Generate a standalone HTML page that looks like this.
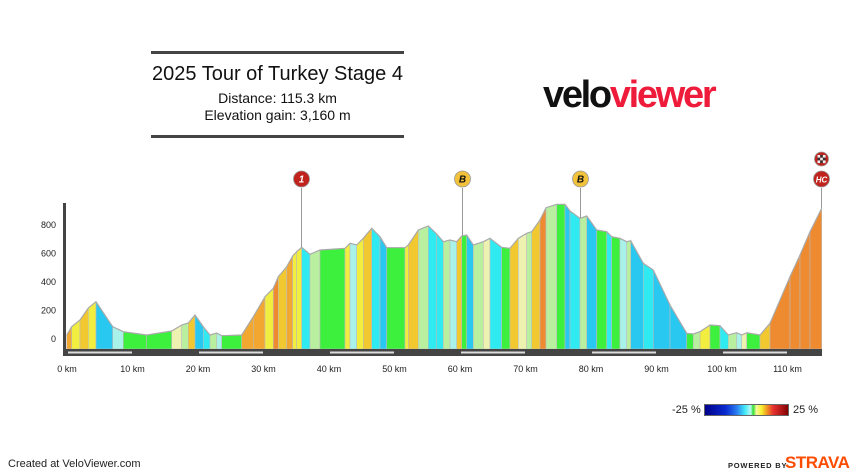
<!DOCTYPE html>
<html><head><meta charset="utf-8"><style>
body{margin:0;width:860px;height:473px;background:#fff;overflow:hidden;font-family:"Liberation Sans",Arial,sans-serif;position:relative}
.t{position:absolute;white-space:nowrap}
</style></head><body>
<div class="t" style="left:151px;top:51px;width:253px;height:3px;background:#444"></div>
<div class="t" style="left:151px;top:135px;width:253px;height:3px;background:#444"></div>
<div class="t" style="left:151px;width:253px;top:63px;text-align:center;font-size:20px;color:#111">2025 Tour of Turkey Stage 4</div>
<div class="t" style="left:151px;width:253px;top:90px;text-align:center;font-size:14px;color:#111">Distance: 115.3 km</div>
<div class="t" style="left:151px;width:253px;top:107px;text-align:center;font-size:14px;color:#111">Elevation gain: 3,160 m</div>
<div class="t" style="left:543px;top:74px;font-size:38px;font-weight:bold;letter-spacing:-2.3px"><span style="color:#111">velo</span><span style="color:#ee1c3a">viewer</span></div>
<div class="t" style="left:672px;top:404px;font-size:11px;color:#222">-25 %</div>
<div class="t" style="left:704px;top:404px;width:85px;height:12px;border:1px solid #666;box-sizing:border-box;background:linear-gradient(to right,#00008b,#0a2ad0 25%,#2a7af0 38%,#40e8f8 48%,#b8f8f0 55%,#30e030 58%,#f8f8a0 62%,#f8f030 68%,#f0a020 74%,#e83030 82%,#a01010 95%,#800000)"></div>
<div class="t" style="left:793px;top:404px;font-size:11px;color:#222">25 %</div>
<div class="t" style="left:8px;top:458px;font-size:11px;color:#222">Created at VeloViewer.com</div>
<div class="t" style="left:728px;top:461px;font-size:7.5px;font-weight:bold;letter-spacing:0.8px;color:#222">POWERED BY</div>
<div class="t" style="left:785px;top:453px;font-size:17px;font-weight:bold;color:#fc4c02;letter-spacing:-0.5px">STRAVA</div>
<svg id="s" width="860" height="473" style="position:absolute;left:0;top:0"></svg>
<script>
var P=[[66.7,335],[71.7,326.7],[80,320],[88.3,308],[96,301.7],[112.7,326.7],[123.3,331.7],[146.7,335],[171.7,331],[181.7,325],[188.3,323],[195,315],[203.3,326.7],[210,335],[216.7,333],[221.7,335.7],[241.7,335],[253.3,316.7],[265,296.7],[273.3,288.3],[278.3,276.7],[286.7,266.7],[292.7,256],[296.7,251.7],[301.7,247.3],[310,254.3],[320,250],[345,248.3],[350,243.3],[356.7,245],[363.3,238.3],[371.7,228.3],[380,236.7],[386.7,247.7],[405,247.7],[408.3,245],[418.3,230],[428.3,226],[436.7,234],[443.3,241.7],[450,240],[456.7,241.7],[461.7,236],[466.7,235],[473.3,245],[483.3,241.7],[490,238.3],[501.7,247.3],[510,248.3],[518.3,238.3],[526.7,233.3],[531.7,231.7],[540,220],[546,207.7],[556.7,204.3],[565,204.3],[570,211],[580,218.3],[586.7,216],[596.7,230],[606.7,231.7],[611.7,236.7],[620,238.3],[626.7,241.7],[630.7,240.7],[643.3,263.3],[653.3,270],[670,305],[686.7,333.3],[693.3,334],[700,331.7],[710,325],[720,325.7],[728.3,335],[736.7,332.7],[741.7,335],[746.7,332.7],[760,335],[770,323.3],[790,276.7],[800,255],[810,231.7],[821.7,208.3]];
function col(g){if(g<-12)return"#2a7ae8";if(g<-6)return"#29c8f0";if(g<-3)return"#30eaf2";if(g<-1)return"#a8f2ea";if(g<1)return"#3ef03e";if(g<2)return"#b8f0a0";if(g<3)return"#eef2b0";if(g<5)return"#f2ee40";if(g<7)return"#f2c830";if(g<9)return"#f2a830";return"#ee8a30";}
var h='',B=349;
for(var i=0;i<P.length-1;i++){var a=P[i],b=P[i+1];var g=((a[1]-b[1])/0.1425)/((b[0]-a[0])/6.55*1000)*100;
h+='<polygon points="'+a[0]+','+B+' '+a[0]+','+a[1]+' '+b[0]+','+b[1]+' '+b[0]+','+B+'" fill="'+col(g)+'" stroke="#bbb" stroke-width="0.6"/>';}
h+='<polyline points="'+P.map(function(p){return p.join(',')}).join(' ')+'" fill="none" stroke="#aaa" stroke-width="1.2"/>';
h+='<rect x="63" y="203" width="3" height="153" fill="#444"/><rect x="63" y="349" width="759" height="7" fill="#444"/>';
for(var k=0;k<6;k++){var x=67+k*20*6.55;h+='<rect x="'+(x+1)+'" y="351.5" width="64" height="2" fill="#ddd"/>';}
var yl=[0,200,400,600,800];yl.forEach(function(v){h+='<text x="56" y="'+(342-v*0.1425)+'" font-size="9" text-anchor="end" fill="#222">'+v+'</text>';});
for(var k=0;k<=11;k++){h+='<text x="'+(67+k*65.5)+'" y="372" font-size="9" text-anchor="middle" fill="#222">'+(k*10)+' km</text>';}
function mk(x,y,c,t,tc){h+='<line x1="'+x+'" y1="188" x2="'+x+'" y2="'+y+'" stroke="#999" stroke-width="1"/><circle cx="'+x+'" cy="179" r="8" fill="'+c+'" stroke="#999" stroke-width="0.8"/><text x="'+x+'" y="182.5" font-size="'+(t=="HC"?8:10)+'" font-weight="bold" font-style="italic" text-anchor="middle" fill="'+tc+'">'+t+'</text>';}
mk(301.5,247,"#c0221c","1","#fff");mk(462.5,236,"#f2c23a","B","#111");mk(580.5,218,"#f2c23a","B","#111");mk(821.5,208,"#c0221c","HC","#fff");
h+='<circle cx="821.5" cy="159" r="7" fill="#c0221c" stroke="#999" stroke-width="0.8"/>';
for(var r=0;r<3;r++)for(var c=0;c<3;c++)h+='<rect x="'+(817.5+c*2.7)+'" y="'+(155+r*2.7)+'" width="2.7" height="2.7" fill="'+((r+c)%2?"#333":"#eee")+'"/>';
document.getElementById('s').innerHTML=h;
</script>
</body></html>
